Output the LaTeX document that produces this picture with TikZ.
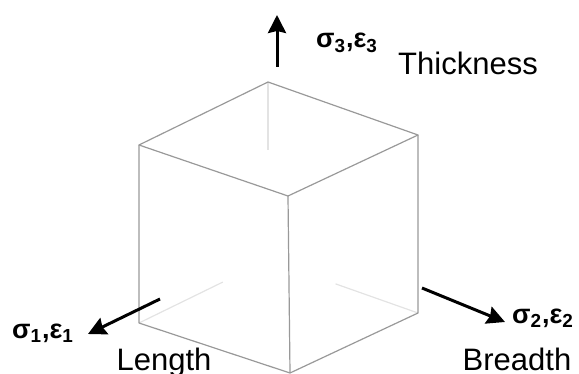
\documentclass[tikz,border=0pt]{standalone}
\usepackage{fontspec}
\setmainfont{Liberation Sans}
\usepackage{tikz}
\usetikzlibrary{calc,arrows.meta}

\tikzset{
  cubeedge/.style={draw=gray!80, line width=0.6pt, line join=round},
  hiddenedge/.style={draw=gray!22, line width=0.6pt},
  load/.style={line width=1.5pt, -{Stealth[length=9pt,width=9pt,inset=1pt]}},
  stress/.style={font=\bfseries\fontsize{13.5}{15}\selectfont, anchor=base, inner sep=0pt},
  dirlabel/.style={font=\fontsize{15.5}{18}\selectfont, anchor=base, inner sep=0pt}
}

\begin{document}
\begin{tikzpicture}[x=0.5pt,y=-0.5pt]
\useasboundingbox (0,0) rectangle (579,374);

% corners of the cube
\coordinate (topback) at (268,82);
\coordinate (topleft) at (139,145);
\coordinate (topfront) at (288,196);
\coordinate (topright) at (418,135);
\coordinate (botleft) at (139,323);
\coordinate (botfront) at (290,373);
\coordinate (botright) at (418,313);
\coordinate (botback) at (268,260);

% hidden edges, only partly seen
\draw[hiddenedge] (topback) -- ($(topback)!0.38!(botback)$);
\draw[hiddenedge] (botleft) -- ($(botleft)!0.65!(botback)$);
\draw[hiddenedge] (botright) -- ($(botright)!0.55!(botback)$);

% visible edges
\draw[cubeedge] (topleft) -- (topback) -- (topright) -- (topfront) -- cycle;
\draw[cubeedge] (topleft) -- (botleft) -- (botfront) -- (botright) -- (topright);
\draw[cubeedge] (topfront) -- (botfront);

% loads
\coordinate (up0) at (277,67);
\coordinate (up1) at (277,15);
\coordinate (len0) at (160,299);
\coordinate (len1) at (88,334);
\coordinate (bre0) at (422,288);
\coordinate (bre1) at (505,322);
\draw[load] (up0) -- (up1);
\draw[load] (len0) -- (len1);
\draw[load] (bre0) -- (bre1);

% labels
\node[stress] (s3) at (347,48) {σ\textsubscript{3},ε\textsubscript{3}};
\node[stress] (s1) at (43,338) {σ\textsubscript{1},ε\textsubscript{1}};
\node[stress] (s2) at (543,323) {σ\textsubscript{2},ε\textsubscript{2}};
\node[dirlabel] (thick) at (468,75) {Thickness};
\node[dirlabel] (length) at (164,370) {Length};
\node[dirlabel] (breadth) at (517,370) {Breadth};
\end{tikzpicture}
\end{document}
